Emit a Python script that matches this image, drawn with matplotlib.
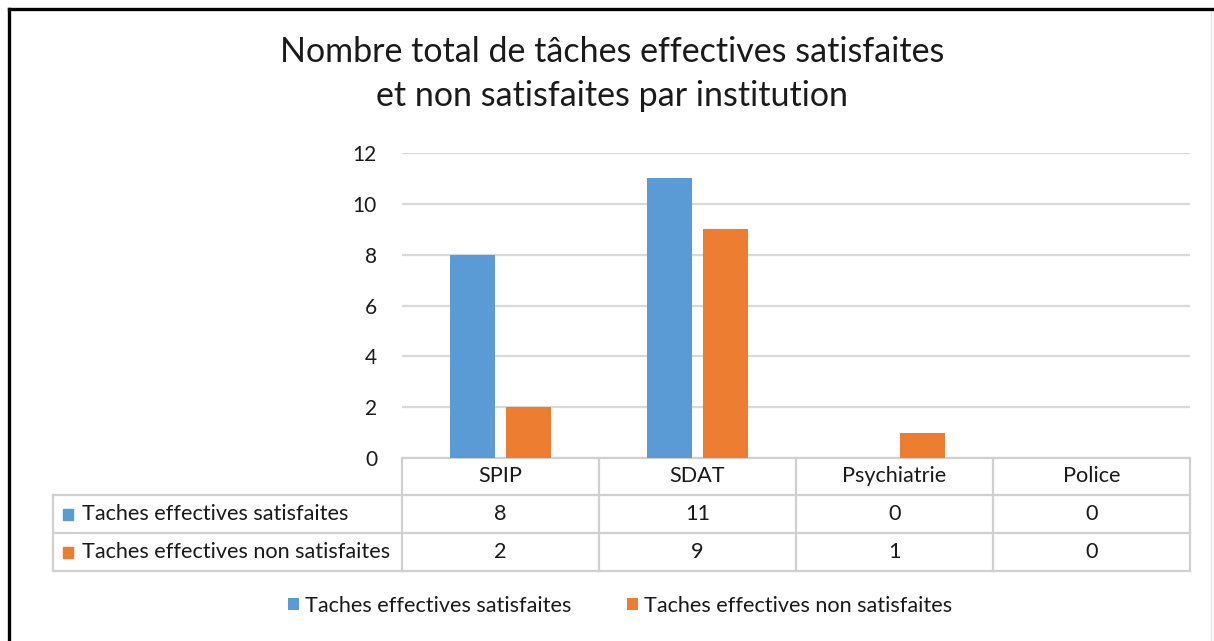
import matplotlib.pyplot as plt
import matplotlib.transforms as mtransforms
from matplotlib.lines import Line2D
from matplotlib.patches import Rectangle
import numpy as np

plt.rcParams['font.family'] = ['Lato', 'DejaVu Sans']

institutions = ['SPIP', 'SDAT', 'Psychiatrie', 'Police']
satisfaites = [8, 11, 0, 0]
non_satisfaites = [2, 9, 1, 0]
series_names = ['Taches effectives satisfaites', 'Taches effectives non satisfaites']
title = 'Nombre total de tâches effectives satisfaites\net non satisfaites par institution'

blue = '#5B9BD5'
orange = '#ED7D31'
grid_col = '#D9D9D9'
txt = '#1a1a1a'
fs = 15.6

W, H = 1214, 641
fig = plt.figure(figsize=(W / 100, H / 100), dpi=100)

# pixel helpers
def fx(px):
    return px / W

def fy(py):
    return 1 - py / H

# outer frame (black on top and left, light on right)
fig.add_artist(Line2D([fx(9), fx(1214)], [fy(9), fy(9)], color='black', lw=2.4))
fig.add_artist(Line2D([fx(9), fx(9)], [fy(9), fy(641)], color='black', lw=2.4))
fig.add_artist(Line2D([fx(1211), fx(1211)], [fy(12), fy(641)], color='#E6E6E6', lw=1))

left, right, top, bottom = 402, 1190, 153, 458
ax = fig.add_axes([fx(left), fy(bottom), fx(right - left), (bottom - top) / H])

x = np.arange(len(institutions))
bw = 0.228
off = 0.142
b1 = ax.bar(x - off, satisfaites, bw, color=blue, zorder=3)
b2 = ax.bar(x + off, non_satisfaites, bw, color=orange, zorder=3)

ax.set_xlim(-0.5, len(institutions) - 0.5)
ax.set_ylim(0, 12)
ax.set_yticks(range(0, 13, 2))
ax.yaxis.grid(True, color=grid_col, lw=1.6, zorder=0)
ax.set_xticks([])
for s in ax.spines.values():
    s.set_visible(False)
ax.tick_params(axis='y', length=0, pad=18, labelsize=15, labelcolor=txt)

fig.text(fx(612), fy(74), title, ha='center', va='center', fontsize=24.5,
         color=txt, linespacing=1.45)

# data table under the axes
trans = mtransforms.blended_transform_factory(ax.transData, ax.transAxes)
ph = bottom - top
rows_px = [458, 495, 533, 571]
rows = [-(r - bottom) / ph for r in rows_px]
col_px = (right - left) / len(institutions)
label_left = -0.5 - (left - 53) / col_px
tcol = '#D0D0D0'

def hline(y, x0, x1):
    ax.add_line(Line2D([x0, x1], [y, y], transform=trans, color=tcol, lw=1.6, clip_on=False))

def vline(xv, y0, y1):
    ax.add_line(Line2D([xv, xv], [y0, y1], transform=trans, color=tcol, lw=1.6, clip_on=False))

hline(rows[0], -0.5, len(institutions) - 0.5)
for r in rows[1:]:
    hline(r, label_left, len(institutions) - 0.5)
vline(label_left, rows[1], rows[3])
for i in range(len(institutions) + 1):
    vline(i - 0.5, rows[0], rows[3])

for i, name in enumerate(institutions):
    ax.text(i, (rows[0] + rows[1]) / 2, name, transform=trans, ha='center', va='center',
            fontsize=fs, color=txt)
    ax.text(i, (rows[1] + rows[2]) / 2, str(satisfaites[i]), transform=trans, ha='center',
            va='center', fontsize=fs, color=txt)
    ax.text(i, (rows[2] + rows[3]) / 2, str(non_satisfaites[i]), transform=trans, ha='center',
            va='center', fontsize=fs, color=txt)

sq_w = 10 / col_px
sq_h = 11 / ph
for k, (name, col) in enumerate(zip(series_names, [blue, orange])):
    yc = (rows[k + 1] + rows[k + 2]) / 2
    ax.add_patch(Rectangle((label_left + 10 / col_px, yc - sq_h / 2), sq_w, sq_h,
                           transform=trans, color=col, clip_on=False))
    ax.text(label_left + 29 / col_px, yc, name, transform=trans, ha='left', va='center',
            fontsize=fs, color=txt)

fig.legend([b1, b2], series_names, loc='center', bbox_to_anchor=(fx(620), fy(606)),
           ncol=2, frameon=False, fontsize=fs, handlelength=0.5, handleheight=0.5,
           handletextpad=0.25, columnspacing=2.6, labelcolor=txt)

fig.savefig('out.png', dpi=100)
